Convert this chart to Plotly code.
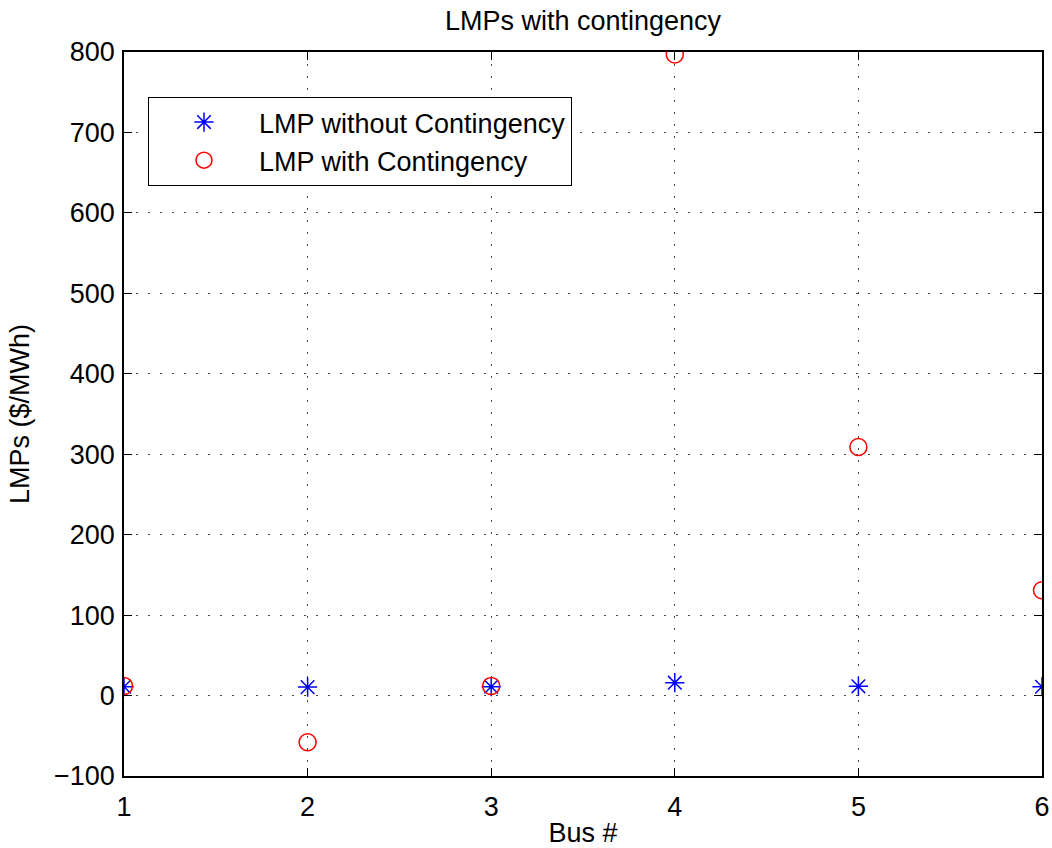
import plotly.graph_objects as go

buses = [1, 2, 3, 4, 5, 6]
lmp_without = [11, 10.5, 11, 16, 11.5, 11]
lmp_with = [12, -58, 12, 797, 309, 131]

x_ticks = [1, 2, 3, 4, 5, 6]
y_ticks = [-100, 0, 100, 200, 300, 400, 500, 600, 700, 800]

FONT = "Liberation Sans, Arial, sans-serif"
FS = 27

fig = go.Figure()
fig.add_trace(go.Scatter(
    x=buses, y=lmp_without, mode="markers", name="LMP without Contingency",
    marker=dict(symbol="asterisk-open", size=16, color="blue", line=dict(color="blue", width=1.5)),
))
fig.add_trace(go.Scatter(
    x=buses, y=lmp_with, mode="markers", name="LMP with Contingency",
    marker=dict(symbol="circle-open", size=17, color="red", line=dict(color="red", width=1.5)),
))

axis_common = dict(
    showline=True, linecolor="black", linewidth=1.5, mirror="ticks",
    ticks="inside", ticklen=8, tickcolor="black", tickwidth=1,
    showgrid=True, gridcolor="#444444", griddash="1.5px,10.5px", gridwidth=1.2,
    zeroline=False, automargin=False,
    tickfont=dict(size=FS, color="black", family=FONT),
)

fig.update_layout(
    width=1052, height=848,
    paper_bgcolor="white", plot_bgcolor="white",
    margin=dict(l=124, r=10, t=52, b=72, autoexpand=False),
    font=dict(family=FONT, color="black", size=FS),
    title=dict(text="LMPs with contingency", x=0.5, xref="paper", xanchor="center",
               y=1 - 21 / 848, yanchor="middle", font=dict(size=FS, family=FONT, color="black")),
    xaxis=dict(range=[1, 6], tickvals=x_ticks, ticklabelstandoff=6,
               title=dict(text="Bus #", standoff=2, font=dict(size=FS)), **axis_common),
    yaxis=dict(range=[-100, 800], tickvals=y_ticks, ticklabelstandoff=2,
               ticktext=[("\u2212" + str(-v)) if v < 0 else str(v) for v in y_ticks],
               title=dict(text="LMPs ($/MWh)", standoff=17, font=dict(size=FS)), **axis_common),
    showlegend=True,
    legend=dict(x=(148 - 124) / 918, y=1 - (97 - 52) / 724, xanchor="left", yanchor="top",
                bgcolor="white", bordercolor="black", borderwidth=1,
                font=dict(size=FS, color="black", family=FONT), itemwidth=100),
)

fig.write_html("out.html")
